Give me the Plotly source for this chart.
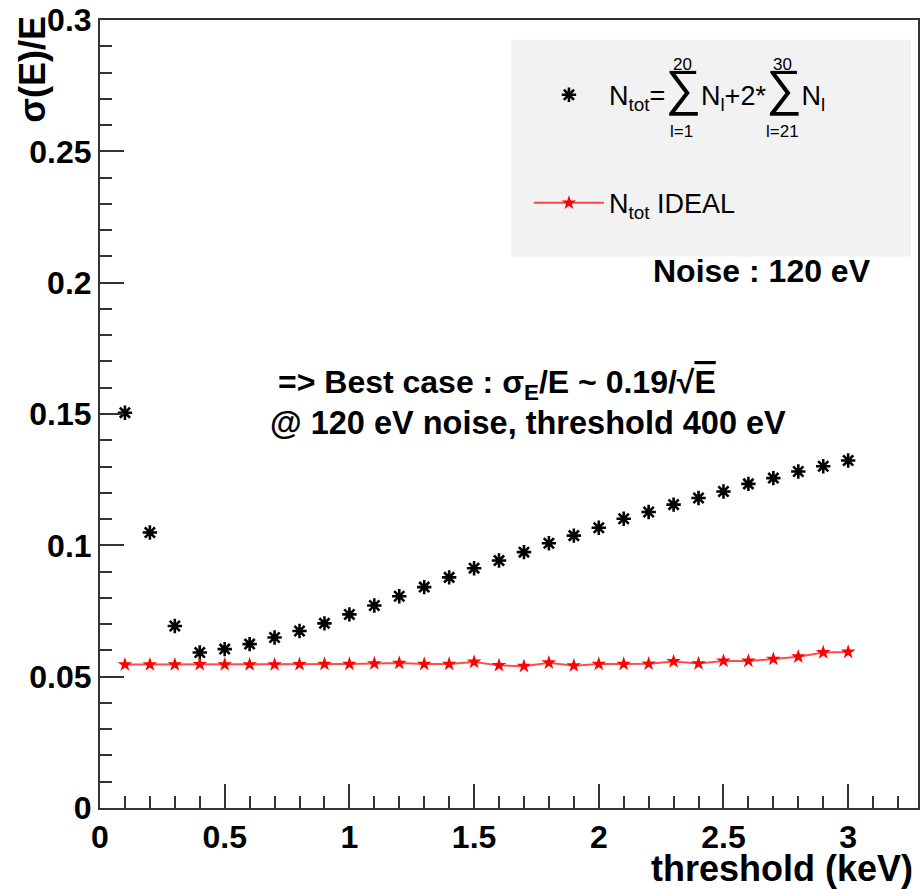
import plotly.graph_objects as go

# ---------------- data ----------------
threshold_kev = [0.1, 0.2, 0.3, 0.4, 0.5, 0.6, 0.7, 0.8, 0.9, 1.0,
                 1.1, 1.2, 1.3, 1.4, 1.5, 1.6, 1.7, 1.8, 1.9, 2.0,
                 2.1, 2.2, 2.3, 2.4, 2.5, 2.6, 2.7, 2.8, 2.9, 3.0]
sigma_ntot = [0.1505, 0.1049, 0.0693, 0.0592, 0.0605, 0.0624, 0.0649, 0.0674, 0.0703, 0.0737,
              0.0771, 0.0806, 0.0841, 0.0878, 0.0913, 0.0942, 0.0974, 0.1008, 0.1037, 0.1067,
              0.1101, 0.1127, 0.1155, 0.1180, 0.1205, 0.1234, 0.1256, 0.1281, 0.1301, 0.1323]
sigma_ideal = [0.0546, 0.0546, 0.0546, 0.0547, 0.0546, 0.0546, 0.0546, 0.0547, 0.0548, 0.0548,
               0.0550, 0.0552, 0.0548, 0.0548, 0.0556, 0.0543, 0.0540, 0.0553, 0.0542, 0.0548,
               0.0548, 0.0549, 0.0558, 0.0550, 0.0560, 0.0560, 0.0567, 0.0576, 0.0592, 0.0594]
x_tick_vals = [0, 0.5, 1, 1.5, 2, 2.5, 3]
x_tick_text = ["0", "0.5", "1", "1.5", "2", "2.5", "3"]
y_tick_vals = [0, 0.05, 0.1, 0.15, 0.2, 0.25, 0.3]
y_tick_text = ["0", "0.05", "0.1", "0.15", "0.2", "0.25", "0.3"]

name_ntot = ("N<sub>tot</sub>=<span style='font-size:50px'>∑</span>N<sub>l</sub>+2*"
             "<span style='font-size:50px'>∑</span>N<sub>l</sub>")
name_ideal = "N<sub>tot</sub> IDEAL"

# ---------------- layout helpers ----------------
FIG_W, FIG_H = 922, 889
M = dict(l=100, r=2, t=15, b=81)
PW = FIG_W - M["l"] - M["r"]
PH = FIG_H - M["t"] - M["b"]


def px(xp):
    return (xp - M["l"]) / PW


def py(yp):
    return (FIG_H - M["b"] - yp) / PH


FONT = "Liberation Sans, Arial, Helvetica, sans-serif"
AX = "#333333"

fig = go.Figure()
fig.add_trace(go.Scatter(
    x=threshold_kev, y=sigma_ntot, mode="markers", name=name_ntot,
    legendgroup="a",
    marker=dict(symbol="asterisk-open", size=12, color="black",
                line=dict(color="black", width=2.6)),
))
fig.add_trace(go.Scatter(
    x=threshold_kev, y=sigma_ideal, mode="lines+markers", name=name_ideal,
    legendgroup="b",
    line=dict(color="rgba(255,0,0,0.7)", width=2),
    marker=dict(symbol="star", size=11, color="red"),
))

axis_common = dict(
    showgrid=False, zeroline=False, showline=True, linecolor=AX, linewidth=2,
    mirror=True, ticks="inside", ticklen=24, tickwidth=2, tickcolor=AX,
    ticklabeloverflow="allow",
    tickfont=dict(family=FONT, size=32, color="black", weight="bold"),
)

fig.update_xaxes(range=[0, 3.28], tickmode="array", tickvals=x_tick_vals, ticktext=x_tick_text,
                 minor=dict(ticks="inside", ticklen=12, tickwidth=2, tickcolor=AX,
                            tick0=0, dtick=0.1, showgrid=False),
                 **axis_common)
fig.update_yaxes(range=[0, 0.3], tickmode="array", tickvals=y_tick_vals, ticktext=y_tick_text,
                 minor=dict(ticks="inside", ticklen=12, tickwidth=2, tickcolor=AX,
                            tick0=0, dtick=0.01, showgrid=False),
                 **axis_common)

# legend background box
fig.add_shape(type="rect", xref="paper", yref="paper",
              x0=px(512), x1=px(913), y0=py(253), y1=py(35),
              fillcolor="#f2f2f2", line=dict(width=0), layer="below")

ann = []
# sum limits in legend formula
for txt, xp, yp in [("20", 684, 60), ("l=1", 683, 127), ("30", 784, 60), ("l=21", 784, 127)]:
    ann.append(dict(text=txt, x=px(xp), y=py(yp), xref="paper", yref="paper",
                    xanchor="center", yanchor="middle", showarrow=False,
                    font=dict(family=FONT, size=17, color="black")))

ann.append(dict(text="Noise : 120 eV", x=px(652), y=py(268), xref="paper", yref="paper",
                xanchor="left", yanchor="middle", showarrow=False,
                font=dict(family=FONT, size=32, color="black", weight="bold")))
ann.append(dict(text="=> Best case : σ<sub>E</sub>/E ~ 0.19/√<span style='text-decoration:overline'>E</span>",
                x=px(276), y=py(382), xref="paper", yref="paper",
                xanchor="left", yanchor="middle", showarrow=False,
                font=dict(family=FONT, size=32, color="black", weight="bold")))
ann.append(dict(text="@ 120 eV noise, threshold 400 eV", x=px(268), y=py(421),
                xref="paper", yref="paper", xanchor="left", yanchor="middle", showarrow=False,
                font=dict(family=FONT, size=32.5, color="black", weight="bold")))
# axis titles (ROOT style: right/top aligned)
ann.append(dict(text="threshold (keV)", x=px(917), y=py(869), xref="paper", yref="paper",
                xanchor="right", yanchor="middle", showarrow=False,
                font=dict(family=FONT, size=36, color="black", weight="bold")))
ann.append(dict(text="σ(E)/E", x=px(32), y=py(9), xref="paper", yref="paper",
                xanchor="center", yanchor="top", textangle=-90, showarrow=False,
                font=dict(family=FONT, size=36, color="black", weight="bold")))

fig.update_layout(
    width=FIG_W, height=FIG_H, margin=M,
    paper_bgcolor="white", plot_bgcolor="white",
    annotations=ann,
    showlegend=True,
    legend=dict(x=px(530), y=py(66), xanchor="left", yanchor="top",
                bgcolor="rgba(0,0,0,0)", borderwidth=0,
                font=dict(family=FONT, size=27, color="black"),
                itemwidth=70, traceorder="grouped", tracegroupgap=70),
)

fig.write_html("out.html", config={"displayModeBar": False},
               post_script="document.body.style.margin='0';document.body.style.overflow='hidden';")
